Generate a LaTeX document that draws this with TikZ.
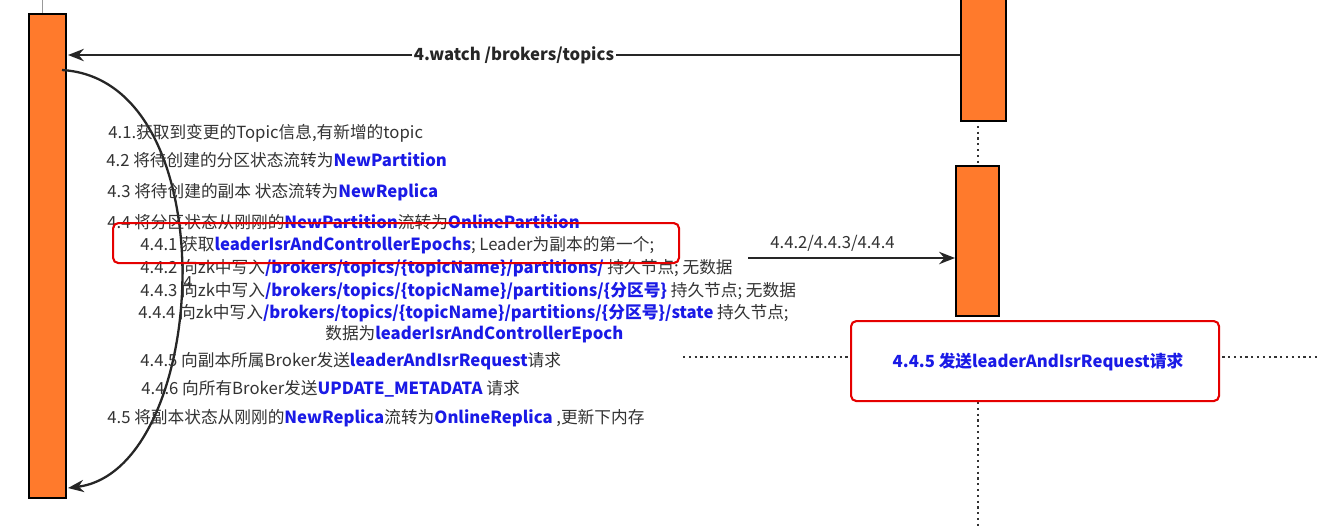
\documentclass[tikz,border=0pt]{standalone}
\usepackage{fontspec}
\setmainfont{Noto Sans CJK SC}
\usetikzlibrary{arrows.meta}
\definecolor{bar}{HTML}{FF7A2C}
\definecolor{kb}{HTML}{1A1AE6}
\begin{document}
\begin{tikzpicture}[x=0.02cm,y=-0.02cm,
  barbox/.style={draw=black,line width=1.2pt,fill=bar},
  txt/.style={anchor=west,inner sep=0,font=\fontsize{9.5}{11}\selectfont,text=black!80},
  redbox/.style={draw=red!90!black,line width=1.2pt,rounded corners=3pt},
  arr/.style={draw=black!85,line width=1.3pt,-{Stealth[length=9pt,width=7pt]}},
  life/.style={draw=black!80,line width=1.3pt,dotted}]
\useasboundingbox (0,0) rectangle (1318,529);
\fill[white] (0,0) rectangle (1318,529);
\draw[black!40] (42,0) -- (42,13);
\draw[life] (978,120) -- (978,165);
\draw[life] (978,315) -- (978,529);
\draw[life] (683,357) -- (1318,357);
\node[barbox,minimum width=37*0.02cm,minimum height=484*0.02cm,inner sep=0,anchor=north west] (L) at (28,13) {};
\node[barbox,minimum width=45*0.02cm,minimum height=122*0.02cm,inner sep=0,anchor=north west] (R1) at (960,-2) {};
\node[barbox,minimum width=43*0.02cm,minimum height=150*0.02cm,inner sep=0,anchor=north west] (R2) at (955,165) {};
\coordinate (wS) at (960,55); \coordinate (wE) at (68,55);
\draw[arr] (wS) -- (wE) node[midway,xshift=0cm,fill=white,inner sep=1pt,font=\bfseries\fontsize{9.5}{11}\selectfont,text=black!85] (wl) {4.watch /brokers/topics};
\coordinate (cS) at (62,70); \coordinate (cE) at (68,488);
\draw[arr] (cS) .. controls (230,80) and (210,470) .. (cE);
\coordinate (aS) at (748,258); \coordinate (aE) at (955,258);
\draw[arr] (aS) -- (aE);
\node[txt] (al) at (770,243) {4.4.2/4.4.3/4.4.4};
\node[txt] (t1) at (108,133) {4.1.获取到变更的Topic信息,有新增的topic};
\node[txt] (t2) at (106,160) {4.2 将待创建的分区状态流转为\textcolor{kb}{\bfseries NewPartition}};
\node[txt] (t3) at (107,192) {4.3 将待创建的副本 状态流转为\textcolor{kb}{\bfseries NewReplica}};
\node[txt] (t4) at (107,222) {4.4 将分区状态从刚刚的\textcolor{kb}{\bfseries NewPartition}流转为\textcolor{kb}{\bfseries OnlinePartition}};
\node[txt] (t41) at (140,245) {4.4.1 获取\textcolor{kb}{\bfseries leaderIsrAndControllerEpochs}; Leader为副本的第一个;};
\node[txt] (t42) at (140,268) {4.4.2 向zk中写入\textcolor{kb}{\bfseries /brokers/topics/\{topicName\}/partitions/} 持久节点; 无数据};
\node[txt] (t43) at (140,291) {4.4.3 向zk中写入\textcolor{kb}{\bfseries /brokers/topics/\{topicName\}/partitions/\{分区号\}} 持久节点; 无数据};
\node[txt] (t44) at (138,313) {4.4.4 向zk中写入\textcolor{kb}{\bfseries /brokers/topics/\{topicName\}/partitions/\{分区号\}/state} 持久节点;};
\node[txt] (t44b) at (325,334) {数据为\textcolor{kb}{\bfseries leaderIsrAndControllerEpoch}};
\node[txt] (t45) at (140,361) {4.4.5 向副本所属Broker发送\textcolor{kb}{\bfseries leaderAndIsrRequest}请求};
\node[txt] (t46) at (141,389) {4.4.6 向所有Broker发送\textcolor{kb}{\bfseries UPDATE\_METADATA} 请求};
\node[txt] (t5) at (107,418) {4.5 将副本状态从刚刚的\textcolor{kb}{\bfseries NewReplica}流转为\textcolor{kb}{\bfseries OnlineReplica} ,更新下内存};
\node[txt] (four) at (183,283) {4};
\node[redbox,minimum width=566*0.02cm,minimum height=40*0.02cm,anchor=north west] (rb1) at (112,222) {};
\node[redbox,minimum width=368*0.02cm,minimum height=80*0.02cm,anchor=north west,fill=white] (rb2) at (850,320) {};
\node[font=\bfseries\fontsize{9.5}{11}\selectfont,text=kb] (rb2t) at (1038,362) {4.4.5 发送leaderAndIsrRequest请求};
\end{tikzpicture}
\end{document}
